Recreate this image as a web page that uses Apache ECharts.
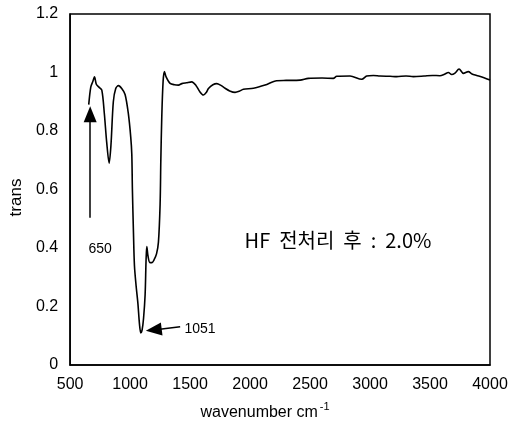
<!DOCTYPE html>
<html>
<head>
<meta charset="utf-8">
<script src="https://cdn.jsdelivr.net/npm/echarts@6/dist/echarts.min.js"></script>
<style>
html,body{margin:0;padding:0;background:#fff;}
#chart{width:518px;height:443px;}
</style>
</head>
<body>
<div id="chart"></div>
<script>
// 파수 (cm-1)
var wavenumber=[655,672,690,703,718,740,764,785,805,825,840,860,880,903,930,958,985,1005,1014,1019,1028,1036,1050,1065,1078,1089,1100,1112,1125,1133,1139,1150,1165,1181,1200,1220,1236,1250,1256,1264,1275,1286,1300,1333,1370,1403,1431,1470,1514,1550,1580,1611,1635,1653,1690,1722,1760,1792,1830,1875,1910,1944,2028,2125,2222,2300,2417,2486,2600,2694,2722,2833,2931,2972,3028,3083,3167,3222,3300,3361,3450,3520,3583,3620,3653,3680,3708,3742,3778,3819,3850,3889,3950,4000];
// 투과율
var trans=[0.89,0.95,0.97,0.985,0.96,0.95,0.94,0.86,0.76,0.69,0.75,0.90,0.945,0.955,0.945,0.925,0.86,0.78,0.72,0.6,0.45,0.34,0.27,0.21,0.14,0.11,0.12,0.16,0.24,0.36,0.405,0.37,0.35,0.35,0.36,0.38,0.42,0.55,0.70,0.85,0.97,1.003,0.985,0.963,0.958,0.957,0.962,0.965,0.968,0.955,0.935,0.923,0.932,0.945,0.958,0.962,0.955,0.946,0.937,0.932,0.936,0.943,0.946,0.957,0.972,0.973,0.974,0.98,0.981,0.98,0.987,0.988,0.977,0.988,0.99,0.988,0.987,0.986,0.988,0.986,0.988,0.99,0.989,0.994,1.0,0.993,0.998,1.012,0.997,1.003,0.995,0.99,0.982,0.974];
var xTicks=[500,1000,1500,2000,2500,3000,3500,4000];
var yTicks=[0,0.2,0.4,0.6,0.8,1,1.2];
// 주석 (화살표 시작, 끝 / 글자 위치)
var arrow650=[[667,0.503],[667,0.857]];
var arrow1051=[[1417,0.131],[1197,0.12]];
var notes=[
	{text:'650',at:[750,0.397],size:14},
	{text:'1051',at:[1583,0.123],size:14},
	{text:'HF  전처리  후  :  2.0%',at:[2733,0.427],size:20}
];

var chart=echarts.init(document.getElementById('chart'));
var numFont='"Liberation Sans Narrow","Liberation Sans",Arial,sans-serif';

var lineData=wavenumber.map(function(w,i){return [w,trans[i]];});

var option={
	animation:false,
	backgroundColor:'#fff',
	grid:{left:70,right:28,top:14,bottom:78,show:true,borderColor:'#000',borderWidth:1.5,backgroundColor:'transparent'},
	xAxis:{
		type:'value',min:xTicks[0],max:xTicks[xTicks.length-1],interval:500,
		name:'wavenumber cm{sup|-1}',nameLocation:'middle',nameGap:36,
		nameTextStyle:{color:'#000',fontSize:16,fontFamily:numFont,padding:[0,30,0,0],
			rich:{sup:{fontSize:11,verticalAlign:'top',padding:[0,0,12,2],color:'#000',fontFamily:numFont}}},
		axisLine:{lineStyle:{color:'#000',width:1.5}},
		axisTick:{show:false},splitLine:{show:false},
		axisLabel:{color:'#000',fontSize:16,fontFamily:numFont,margin:12,
			formatter:function(v){return String(v);}}
	},
	yAxis:{
		type:'value',min:yTicks[0],max:yTicks[yTicks.length-1],interval:0.2,
		name:'trans',nameLocation:'middle',nameGap:42,
		nameTextStyle:{color:'#000',fontSize:17,fontFamily:numFont,padding:[0,0,0,-16]},
		axisLine:{lineStyle:{color:'#000',width:1.5}},
		axisTick:{show:false},splitLine:{show:false},
		axisLabel:{color:'#000',fontSize:16,fontFamily:numFont,margin:12,
			formatter:function(v){return String(Math.round(v*10)/10);}}
	},
	series:[{
		type:'line',data:lineData,showSymbol:false,smooth:0.3,
		lineStyle:{color:'#000',width:1.6},
		markLine:{
			silent:true,symbol:['none','triangle'],symbolSize:[13,16],
			lineStyle:{color:'#000',width:1.5,type:'solid'},
			label:{show:false},
			data:[
				[{coord:arrow650[0]},{coord:arrow650[1]}],
				[{coord:arrow1051[0]},{coord:arrow1051[1]}]
			]
		},
		markPoint:{
			silent:true,symbol:'circle',symbolSize:1,itemStyle:{color:'transparent'},
			data:notes.map(function(n){
				return {coord:n.at,value:n.text,label:{show:true,position:'inside',formatter:n.text,color:'#000',fontSize:n.size,
					fontFamily:n.size>15?'"Noto Sans CJK KR","Liberation Sans",sans-serif':numFont}};
			})
		}
	}]
};
chart.setOption(option);
</script>
</body>
</html>
